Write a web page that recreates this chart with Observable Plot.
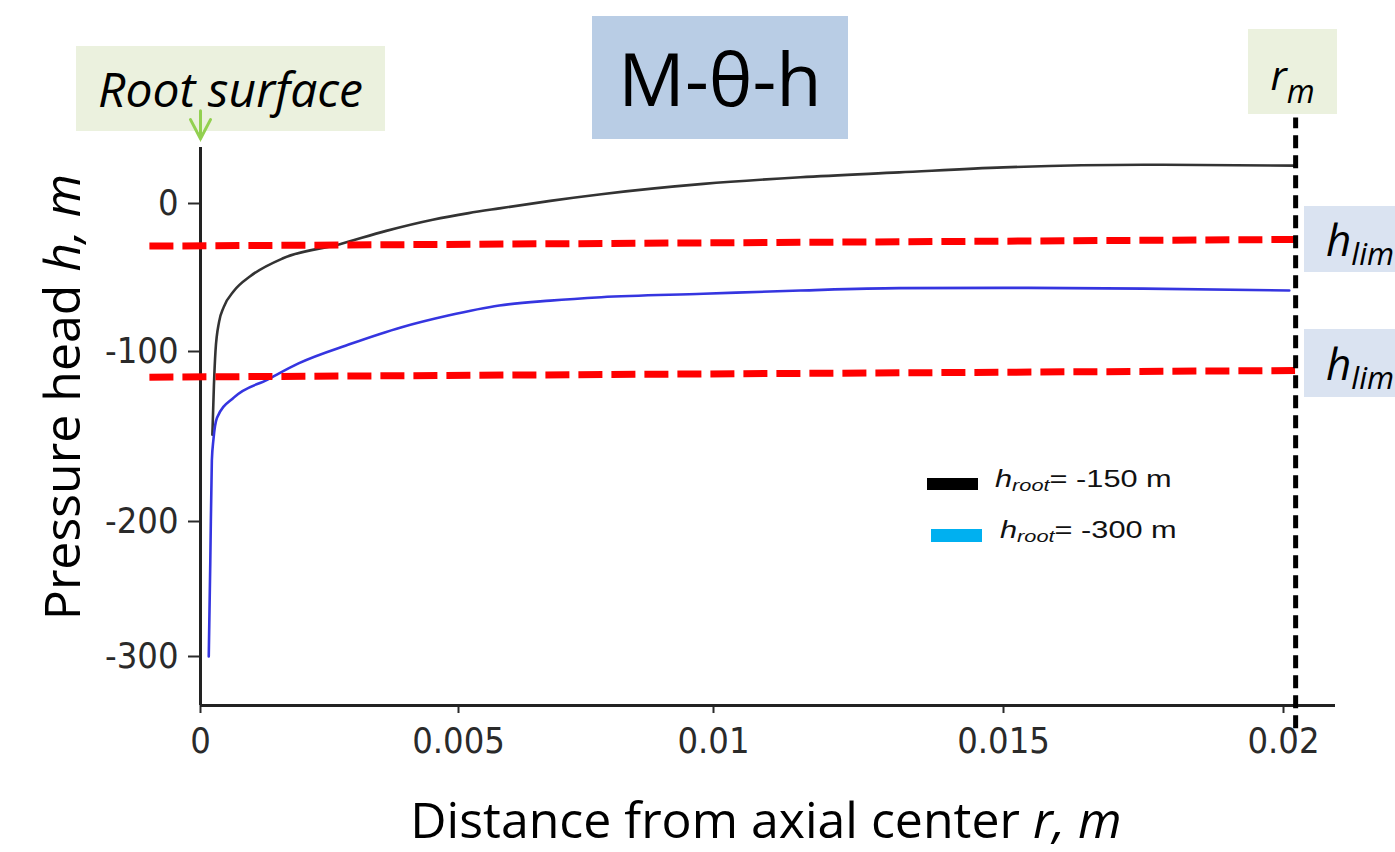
<!DOCTYPE html>
<html><head><meta charset="utf-8">
<script src="https://cdn.jsdelivr.net/npm/d3@7"></script>
<script src="https://cdn.jsdelivr.net/npm/@observablehq/plot@0.6"></script>
<style>
html,body{margin:0;padding:0;background:#fff;overflow:hidden;}
#wrap{position:relative;width:1395px;height:852px;overflow:hidden;font-family:"Open Sans",sans-serif;color:#000;}
#chart{position:absolute;left:0;top:0;z-index:2;}
.box{position:absolute;display:flex;align-items:center;justify-content:center;white-space:nowrap;line-height:1;z-index:1;}
.abs{position:absolute;white-space:nowrap;line-height:1;}
.leg{position:absolute;white-space:nowrap;font-family:"Liberation Sans",Arial,sans-serif;font-size:24px;line-height:24px;color:#111;transform:scaleX(1.28);transform-origin:left center;}
.leg sub{font-size:17px;vertical-align:-0.25em;line-height:0;}
</style></head><body>
<div id="wrap">
  <div class="box" style="left:76px;top:46px;width:309px;height:85px;background:#ebf1de;font-style:italic;font-size:48px;">Root surface</div>
  <div class="box" style="left:592px;top:16px;width:256px;height:123px;background:#b9cde5;font-size:74px;">M-θ-h</div>
  <div class="box" style="left:1248px;top:29px;width:89px;height:85px;background:#ebf1de;font-size:41px;font-style:italic;"><span style="padding-top:6px;">r<sub style="font-size:32px;vertical-align:-0.4em;line-height:0;">m</sub></span></div>
  <div class="box" style="left:1304px;top:206px;width:120px;height:66px;background:#dae3f1;justify-content:flex-start;"><span style="padding-left:22px;font-style:italic;font-size:44px;">h<sub style="font-size:31px;vertical-align:-0.3em;line-height:0;">lim</sub></span></div>
  <div class="box" style="left:1304px;top:329px;width:120px;height:68px;background:#dae3f1;justify-content:flex-start;"><span style="padding-left:22px;font-style:italic;font-size:44px;">h<sub style="font-size:31px;vertical-align:-0.3em;line-height:0;">lim</sub></span></div>
  <div class="abs" style="left:61px;top:397px;transform:translate(-50%,-50%) rotate(-90deg);font-size:50px;">Pressure head <i>h, m</i></div>
  <div class="abs" style="left:766px;top:794px;transform:translateX(-50%);font-size:50px;">Distance from axial center <i>r, m</i></div>
  <div style="position:absolute;left:927px;top:478px;width:51px;height:12px;background:#000;"></div>
  <div class="leg" style="left:995px;top:467px;"><i>h<sub>root</sub></i>= -150 m</div>
  <div style="position:absolute;left:931px;top:529px;width:51px;height:13px;background:#00b0f0;"></div>
  <div class="leg" style="left:1000px;top:518px;"><i>h<sub>root</sub></i>= -300 m</div>
  <div id="chart"></div>
</div>
<script>
// Axis ticks
const xTicks = [0, 0.005, 0.01, 0.015, 0.02];
const yTicks = [0, -100, -200, -300];

// h_root = -150 m (black)
const rBlack = [0.00023,0.00026,0.00029,0.00036,0.00045,0.00065,0.00097,0.0016,0.0027,0.0036,0.0045,0.0052,0.0058,0.0068,0.0078,0.0098,0.0115,0.0132,0.015,0.0175,0.0202];
const hBlack = [-149,-120,-100,-80,-70,-59,-49,-37,-27.5,-18.5,-11,-6.5,-3.3,1.8,6.3,13.3,17.8,21.1,24.5,26.3,25.7];

// h_root = -300 m (blue)
const rBlue = [0.00016,0.00019,0.00022,0.00025,0.00032,0.00065,0.0013,0.0019,0.0029,0.0039,0.0048,0.0058,0.0068,0.0078,0.0098,0.0115,0.0132,0.015,0.0175,0.0201];
const hBlue = [-300,-229,-164,-152,-139,-127,-116.5,-107,-95,-83.6,-75.7,-68.9,-65.6,-63.3,-61,-58.8,-57.2,-57,-57.5,-58.8];

// h_lim dashed lines
const hlimR = [-0.00099, 0.0202];
const hlimUpper = [-28.8, -24.3];
const hlimLower = [-115.1, -111.2];

// r_m and root surface arrow (tip position)
const rM = 0.02021;
const rmSpan = [-353, 58];
const rootArrowTip = 44;

// scale breakpoints (the picture's axes are not evenly spaced)
const xBreaks = [0, 0.005, 0.01, 0.015, 0.02, 0.0209];
const yBreaks = [-336, -300, -200, -100, 0, 38];

const black = rBlack.map((r, i) => ({r, h: hBlack[i]}));
const blue = rBlue.map((r, i) => ({r, h: hBlue[i]}));
const hlim = [
  ...hlimR.map((r, i) => ({r, h: hlimUpper[i], k: "upper"})),
  ...hlimR.map((r, i) => ({r, h: hlimLower[i], k: "lower"}))
];

// open "V" arrow shape for the root-surface pointer
const vArrow = {
  draw(ctx, l) {
    ctx.moveTo(0, 0); ctx.lineTo(0, -l);
    ctx.moveTo(-10, -l + 19); ctx.lineTo(0, -l); ctx.lineTo(10, -l + 19);
  }
};

const chart = Plot.plot({
  width: 1395, height: 852,
  marginLeft: 200, marginRight: 60, marginTop: 147, marginBottom: 147,
  style: {background: "transparent", overflow: "visible"},
  x: {type: "linear", domain: xBreaks, range: [200, 458, 713, 1003, 1283, 1335], axis: null},
  y: {type: "linear", domain: yBreaks, range: [705, 656, 521, 351, 203, 147], axis: null},
  marks: [
    Plot.axisY({ticks: yTicks, tickFormat: d => String(d), tickSize: 12, tickPadding: 10, label: null,
      fontSize: 36, fontFamily: "DejaVu Sans Condensed", color: "#2a2a2a", strokeWidth: 2}),
    Plot.axisX({ticks: xTicks, tickFormat: d => String(d), tickSize: 8, tickPadding: 14, label: null,
      fontSize: 36, fontFamily: "DejaVu Sans Condensed", color: "#2a2a2a", strokeWidth: 2}),
    Plot.ruleX([{r: 0}], {x: "r", y1: () => yBreaks[0], y2: () => yBreaks[yBreaks.length - 1], stroke: "#222", strokeWidth: 3}),
    Plot.ruleY([{h: yBreaks[0]}], {y: "h", x1: () => 0, x2: () => xBreaks[xBreaks.length - 1], stroke: "#222", strokeWidth: 3}),
    Plot.line(black, {x: "r", y: "h", stroke: "#333", strokeWidth: 2.6, curve: "monotone-x"}),
    Plot.line(blue, {x: "r", y: "h", stroke: "#3535e0", strokeWidth: 2.6, curve: "monotone-x"}),
    Plot.line(hlim, {x: "r", y: "h", z: "k", stroke: "#ff0000", strokeWidth: 7, strokeDasharray: "24,9", strokeLinecap: "butt"}),
    Plot.ruleX([{r: rM}], {x: "r", y1: () => rmSpan[0], y2: () => rmSpan[1], stroke: "#000", strokeWidth: 5, strokeDasharray: "13,7", strokeLinecap: "butt"}),
    Plot.vector([{r: 0, h: rootArrowTip}], {x: "r", y: "h", length: 28, rotate: 180, anchor: "end", shape: vArrow, stroke: "#92d050", strokeWidth: 3, strokeLinecap: "round", strokeLinejoin: "miter"})
  ]
});
document.getElementById("chart").appendChild(chart);
</script>
</body></html>
